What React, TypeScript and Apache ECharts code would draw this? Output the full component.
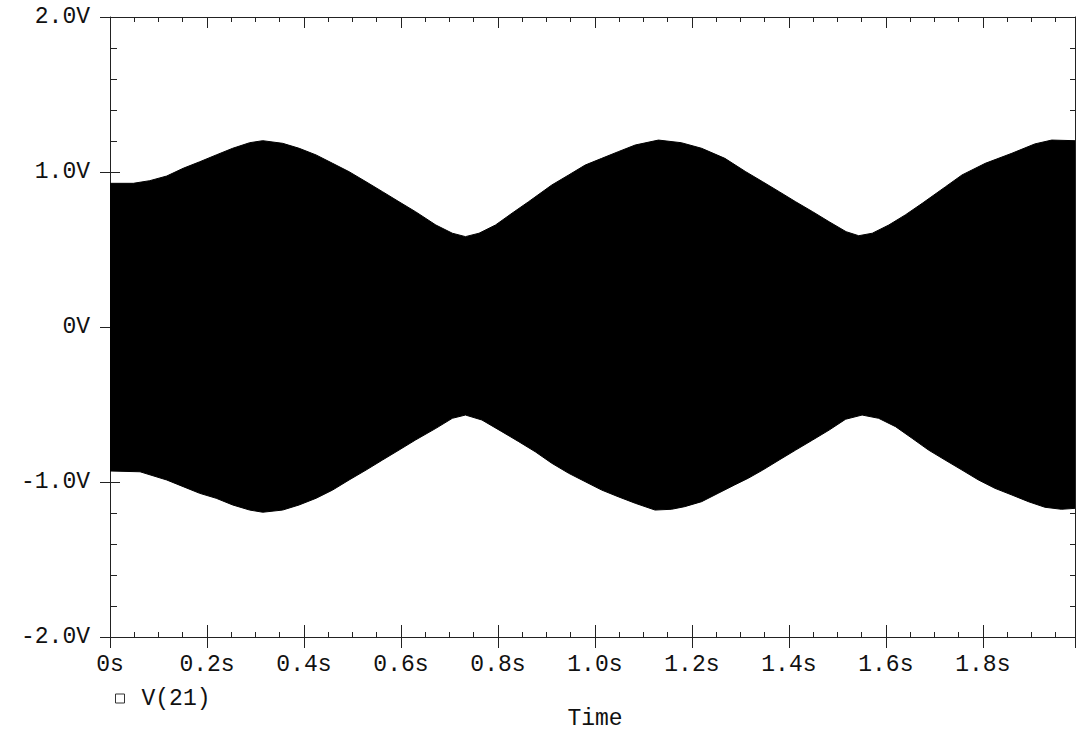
import React, { useEffect, useRef } from "react";
import * as echarts from "echarts";

// Envelope of V(21) (upper and lower edges of the dense oscillation)
const upperTime = [0, 0.048, 0.082, 0.117, 0.151, 0.185, 0.219, 0.253, 0.288, 0.315, 0.356, 0.39, 0.425, 0.459, 0.493, 0.528, 0.562, 0.596, 0.63, 0.672, 0.706, 0.733, 0.761, 0.795, 0.829, 0.863, 0.911, 0.946, 0.98, 1.014, 1.048, 1.083, 1.131, 1.178, 1.22, 1.268, 1.311, 1.346, 1.38, 1.414, 1.449, 1.483, 1.518, 1.544, 1.572, 1.606, 1.64, 1.675, 1.723, 1.757, 1.805, 1.86, 1.907, 1.942, 1.99];
const upperVolts = [0.927, 0.927, 0.944, 0.974, 1.024, 1.066, 1.11, 1.153, 1.189, 1.202, 1.185, 1.153, 1.11, 1.056, 1.002, 0.937, 0.873, 0.808, 0.744, 0.658, 0.605, 0.583, 0.605, 0.658, 0.734, 0.808, 0.916, 0.981, 1.045, 1.088, 1.131, 1.174, 1.206, 1.189, 1.153, 1.088, 1.002, 0.937, 0.873, 0.808, 0.744, 0.679, 0.615, 0.589, 0.605, 0.658, 0.723, 0.798, 0.905, 0.981, 1.056, 1.121, 1.181, 1.206, 1.202];
const lowerTime = [0, 0.062, 0.117, 0.151, 0.185, 0.219, 0.253, 0.288, 0.315, 0.356, 0.39, 0.425, 0.459, 0.493, 0.528, 0.562, 0.596, 0.63, 0.672, 0.706, 0.733, 0.767, 0.808, 0.843, 0.877, 0.911, 0.946, 0.98, 1.014, 1.048, 1.083, 1.124, 1.158, 1.185, 1.22, 1.254, 1.288, 1.316, 1.346, 1.38, 1.414, 1.449, 1.483, 1.517, 1.551, 1.585, 1.62, 1.654, 1.688, 1.722, 1.757, 1.791, 1.825, 1.86, 1.894, 1.928, 1.962, 1.99];
const lowerVolts = [-0.929, -0.934, -0.987, -1.03, -1.073, -1.105, -1.148, -1.181, -1.195, -1.181, -1.148, -1.105, -1.052, -0.987, -0.923, -0.858, -0.794, -0.729, -0.654, -0.589, -0.568, -0.6, -0.675, -0.74, -0.805, -0.879, -0.944, -0.998, -1.052, -1.095, -1.137, -1.181, -1.176, -1.159, -1.127, -1.073, -1.019, -0.976, -0.923, -0.858, -0.794, -0.729, -0.665, -0.595, -0.568, -0.589, -0.643, -0.718, -0.794, -0.858, -0.923, -0.987, -1.041, -1.084, -1.127, -1.163, -1.176, -1.17];

const xTickValues = [0, 0.2, 0.4, 0.6, 0.8, 1.0, 1.2, 1.4, 1.6, 1.8];
const xTickLabels = ["0s", "0.2s", "0.4s", "0.6s", "0.8s", "1.0s", "1.2s", "1.4s", "1.6s", "1.8s"];
const yTickValues = [-2, -1, 0, 1, 2];
const yTickLabels = ["-2.0V", "-1.0V", "0V", "1.0V", "2.0V"];

const seriesName = "V(21)";
const xTitle = "Time";

const FONT = "'Liberation Mono', 'DejaVu Sans Mono', monospace";
const FS = 23;

function lookup(vals: number[], labels: string[], v: number) {
  for (let i = 0; i < vals.length; i++) if (Math.abs(vals[i] - v) < 1e-6) return labels[i];
  return "";
}

export default function App() {
  const ref = useRef<HTMLDivElement>(null);
  useEffect(() => {
    if (!ref.current) return;
    const chart = echarts.init(ref.current, null, { renderer: "svg" });
    const axisColor = "#222";
    const xBase = { type: "value", min: 0, max: 1.99, interval: 0.2, splitLine: { show: false }, gridIndex: 0 };
    const yBase = { type: "value", min: -2, max: 2, interval: 1, splitLine: { show: false }, gridIndex: 0 };
    const envSeries = (data: number[][]) => ({
      name: seriesName,
      type: "line",
      xAxisIndex: 0,
      yAxisIndex: 0,
      showSymbol: false,
      smooth: false,
      lineStyle: { color: "#000", width: 1 },
      itemStyle: { color: "#000" },
      areaStyle: { color: "#000", opacity: 1 },
      data,
    });
    chart.setOption({
      animation: false,
      backgroundColor: "#fff",
      grid: { left: 110, right: 1, top: 17, bottom: 97, containLabel: false },
      legend: {
        show: true,
        data: [seriesName],
        left: 110,
        top: 682,
        icon: "rect",
        itemWidth: 9,
        itemHeight: 9,
        itemStyle: { color: "#fff", borderColor: "#333", borderWidth: 1 },
        textStyle: { fontFamily: FONT, fontSize: FS, color: "#111", padding: [0, 0, 0, 12] },
        selectedMode: false,
      },
      xAxis: [
        {
          ...xBase,
          position: "bottom",
          axisLine: { show: true, onZero: false, lineStyle: { color: axisColor, width: 1 } },
          axisTick: { show: true, inside: true, length: 12, lineStyle: { color: axisColor } },
          minorTick: { show: true, splitNumber: 4, length: 5, lineStyle: { color: axisColor } },
          axisLabel: {
            show: true,
            margin: 16,
            fontFamily: FONT,
            fontSize: FS,
            color: "#111",
            formatter: (v: number) => lookup(xTickValues, xTickLabels, v),
          },
        },
        {
          ...xBase,
          position: "bottom",
          axisLine: { show: false, onZero: false },
          axisTick: { show: true, inside: false, length: 11, lineStyle: { color: axisColor } },
          minorTick: { show: false },
          axisLabel: { show: false },
        },
        {
          ...xBase,
          position: "top",
          axisLine: { show: true, onZero: false, lineStyle: { color: axisColor, width: 1 } },
          axisTick: { show: true, inside: true, length: 11, lineStyle: { color: axisColor } },
          minorTick: { show: true, splitNumber: 4, length: 5, lineStyle: { color: axisColor } },
          axisLabel: { show: false },
        },
      ],
      yAxis: [
        {
          ...yBase,
          position: "left",
          axisLine: { show: true, onZero: false, lineStyle: { color: axisColor, width: 1 } },
          axisTick: { show: true, inside: true, length: 10, lineStyle: { color: axisColor } },
          minorTick: { show: true, splitNumber: 5, length: 7, lineStyle: { color: axisColor } },
          axisLabel: {
            show: true,
            margin: 20,
            fontFamily: FONT,
            fontSize: FS,
            color: "#111",
            formatter: (v: number) => lookup(yTickValues, yTickLabels, v),
          },
        },
        {
          ...yBase,
          position: "left",
          axisLine: { show: false, onZero: false },
          axisTick: { show: true, inside: false, length: 10, lineStyle: { color: axisColor } },
          minorTick: { show: false },
          axisLabel: { show: false },
        },
        {
          ...yBase,
          position: "right",
          axisLine: { show: true, onZero: false, lineStyle: { color: axisColor, width: 1 } },
          axisTick: { show: true, inside: true, length: 10, lineStyle: { color: axisColor } },
          minorTick: { show: true, splitNumber: 5, length: 5, lineStyle: { color: axisColor } },
          axisLabel: { show: false },
        },
      ],
      series: [
        envSeries(upperTime.map((t, i) => [t, upperVolts[i]])),
        envSeries(lowerTime.map((t, i) => [t, lowerVolts[i]])),
      ],
      graphic: [
        {
          type: "text",
          x: 595,
          y: 719,
          style: {
            text: xTitle,
            fontFamily: FONT,
            fontSize: FS,
            fill: "#111",
            textAlign: "center",
            textVerticalAlign: "middle",
          },
        },
      ],
    });
    return () => chart.dispose();
  }, []);
  return (
    <div
      ref={ref}
      style={{ position: "absolute", left: 0, top: 0, width: 1078, height: 734 }}
    />
  );
}
